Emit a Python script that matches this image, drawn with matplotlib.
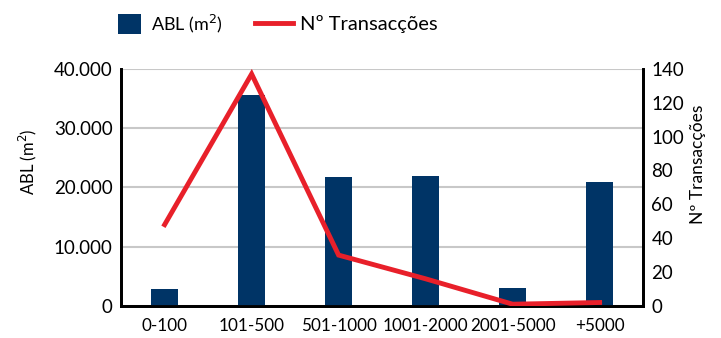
import matplotlib
matplotlib.use("Agg")
import matplotlib.pyplot as plt
from matplotlib.ticker import FuncFormatter, MultipleLocator
from matplotlib.lines import Line2D
from matplotlib.patches import Patch

plt.rcParams['font.family'] = ['Lato', 'DejaVu Sans']

categories = ["0-100", "101-500", "501-1000", "1001-2000", "2001-5000", "+5000"]
abl_m2 = [2900, 35600, 21800, 22000, 3000, 20900]
transaccoes = [48, 137, 30, 16, 1, 2]

navy = "#003466"
red = "#E8202A"

fig = plt.figure(figsize=(7.21, 3.38), dpi=100)
ax = fig.add_axes([0.168, 0.095, 0.724, 0.701])
ax2 = ax.twinx()

x = list(range(len(categories)))
ax.bar(x, abl_m2, width=0.31, color=navy, zorder=3)
ax.set_xlim(-0.5, len(categories) - 0.5)
ax.set_ylim(0, 40000)
ax.yaxis.set_major_locator(MultipleLocator(10000))
ax.yaxis.set_major_formatter(FuncFormatter(lambda v, p: f"{int(v):,}".replace(",", ".")))
ax.grid(axis="y", color="#c8c8c8", linewidth=1.5, zorder=0)
ax.set_axisbelow(True)

ax2.plot(x, transaccoes, color=red, linewidth=3.5, solid_joinstyle="miter", zorder=4)
ax2.set_ylim(0, 140)
ax2.yaxis.set_major_locator(MultipleLocator(20))

for a in (ax, ax2):
    a.spines["top"].set_visible(False)
    for s in ("left", "right", "bottom"):
        a.spines[s].set_linewidth(2)
        a.spines[s].set_color("black")
    a.tick_params(length=0, labelsize=13.5, pad=6)

ax.set_xticks(x)
ax.set_xticklabels(categories, fontsize=12.3)
ax.tick_params(axis="x", pad=9)

ax.set_ylabel("ABL (m$^2$)", fontsize=12)
ax.yaxis.set_label_coords(-0.157, 0.608)
ax2.set_ylabel("Nº Transacções", fontsize=12.5)
ax2.yaxis.set_label_coords(1.09, 0.598)

# two legend entries, each with its own handle size and text size
leg1 = fig.legend([Patch(facecolor=navy, edgecolor="none")], ["ABL (m$^2$)"],
                  loc="center left", bbox_to_anchor=(0.1637, 0.930),
                  frameon=False, fontsize=13, handlelength=1.27,
                  handleheight=1.3, handletextpad=0.55,
                  borderpad=0, borderaxespad=0)
leg2 = fig.legend([Line2D([0], [0], color=red, linewidth=3.5)], ["Nº Transacções"],
                  loc="center left", bbox_to_anchor=(0.3537, 0.930),
                  frameon=False, fontsize=14.5, handlelength=1.9,
                  handletextpad=0.35, borderpad=0, borderaxespad=0)

fig.savefig("out.png", dpi=100)
